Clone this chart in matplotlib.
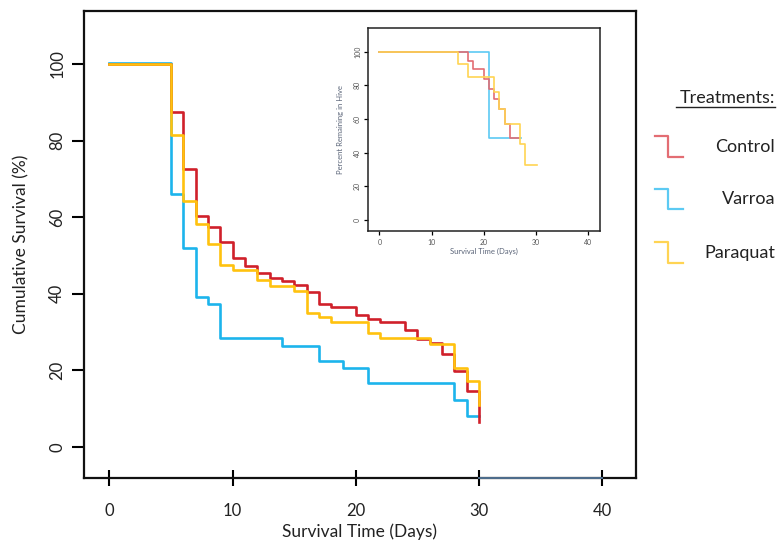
import matplotlib
matplotlib.use("Agg")
import matplotlib.pyplot as plt
from matplotlib.lines import Line2D

plt.rcParams['font.family'] = ['Lato', 'DejaVu Sans']

# ---------------- data (main chart) ----------------
control_t = [0, 5, 6, 7, 8, 9, 10, 11, 12, 13, 14, 15, 16, 17, 18, 20, 21, 22, 24, 25, 26, 27, 28, 29, 30]
control_v = [100, 87.5, 72.5, 60.4, 57.3, 53.5, 49.4, 47.3, 45.4, 44.2, 43.4, 42.3, 40.4, 37.3, 36.5,
             34.5, 33.3, 32.7, 30.5, 28.1, 27.2, 24.2, 19.9, 14.5, 6.5]
varroa_t = [0, 5, 6, 7, 8, 9, 14, 17, 19, 21, 28, 29, 30]
varroa_v = [100.3, 66.0, 51.8, 39.2, 37.3, 28.3, 26.3, 22.4, 20.6, 16.6, 12.2, 8.0, 8.0]
paraquat_t = [0, 5, 6, 7, 8, 9, 10, 12, 13, 15, 16, 17, 18, 21, 22, 26, 28, 29, 30]
paraquat_v = [100, 81.4, 64.2, 58.3, 53.0, 47.5, 46.2, 43.6, 42.0, 40.8, 35.0, 33.8, 32.6,
              29.6, 28.3, 26.8, 20.5, 17.2, 10.9]

# ---------------- data (inset) ----------------
in_control_t = [0, 17, 18, 20, 21, 22, 23, 24, 25, 26.7]
in_control_v = [100, 94.6, 89.5, 84, 78, 72, 65.7, 57, 49, 49]
in_varroa_t = [0, 21, 27.2]
in_varroa_v = [99.6, 49, 49]
in_paraquat_t = [0, 15, 17, 22, 23, 24, 27, 28, 30.2]
in_paraquat_v = [100, 92.6, 85, 76, 66, 57, 45, 32.7, 32.7]

x_ticks = [0, 10, 20, 30, 40]
y_ticks = [0, 20, 40, 60, 80, 100]
treatments = ["Control", "Varroa", "Paraquat"]

RED, BLUE, YEL = '#d0202a', '#1cb4ec', '#ffc20e'
RED_L, BLUE_L, YEL_L = '#e36d73', '#5ccaf3', '#ffd453'

fig = plt.figure(figsize=(7.81, 5.47), dpi=100)
ax = fig.add_axes([84/781, 1-478/547, 552/781, 467/547])

ax.step(control_t, control_v, where='post', color=RED, lw=1.9, zorder=3)
ax.step(varroa_t, varroa_v, where='post', color=BLUE, lw=1.9, zorder=2)
ax.step(paraquat_t, paraquat_v, where='post', color=YEL, lw=1.9, zorder=3)

ax.set_xlim(-2.06, 42.74)
ax.set_ylim(-8.18, 113.85)
ax.set_xticks(x_ticks)
ax.set_yticks(y_ticks)
for s in ax.spines.values():
    s.set_linewidth(1.6)
    s.set_color('#111111')
ax.tick_params(axis='x', direction='inout', length=12, width=1.5, pad=12,
               labelsize=12, labelcolor='#222222')
ax.tick_params(axis='y', direction='out', length=8.5, width=1.5, pad=5,
               labelsize=12, labelcolor='#222222', labelrotation=90)
for lab in ax.get_yticklabels():
    lab.set_va('center')
# bluish segment on the bottom spine
ax.plot([30, 40], [-8.18, -8.18], color='#4f6f8f', lw=1.4, zorder=5, clip_on=False)

ax.set_xlabel("Survival Time (Days)", fontsize=12.5, color='#222222')
ax.xaxis.set_label_coords(0.5, (478-532)/467)
ax.xaxis.label.set_va('center')
ax.set_ylabel("Cumulative Survival (%)", fontsize=12.5, color='#222222')
ax.yaxis.set_label_coords((21-84)/552, 0.5)
ax.yaxis.label.set_va('center')

# ---------------- inset ----------------
ins = fig.add_axes([368/781, 1-231/547, 232/781, 203/547])
ins.step(in_control_t, in_control_v, where='post', color=RED_L, lw=1.2, zorder=3)
ins.step(in_varroa_t, in_varroa_v, where='post', color=BLUE_L, lw=1.2, zorder=2)
ins.step(in_paraquat_t, in_paraquat_v, where='post', color=YEL_L, lw=1.2, zorder=4)
ins.set_xlim(-2.2, 42.3)
ins.set_ylim(-6.5, 114)
ins.set_xticks(x_ticks)
ins.set_yticks(y_ticks)
for s in ins.spines.values():
    s.set_linewidth(1.1)
    s.set_color('#222222')
ins.tick_params(axis='x', direction='out', length=3, width=0.9, pad=3,
                labelsize=5, labelcolor='#555555')
ins.tick_params(axis='y', direction='out', length=3, width=0.9, pad=2,
                labelsize=5, labelcolor='#555555', labelrotation=90)
for lab in ins.get_yticklabels():
    lab.set_va('center')
ins.set_xlabel("Survival Time (Days)", fontsize=5.5, color='#5a6478', labelpad=1)
ins.set_ylabel("Percent Remaining in Hive", fontsize=5.5, color='#5a6478', labelpad=7)

# ---------------- legend ----------------
fig.text(775/781, 1-98/547, "Treatments:", ha='right', va='center', fontsize=13,
         color='#222222')
fig.add_artist(Line2D([676/781, 775/781], [1-107/547, 1-107/547], color='#222222', lw=1.0))
leg_colors = [RED_L, BLUE_L, YEL_L]
leg_y = [146.7, 199.5, 253]
for name, c, yc in zip(treatments, leg_colors, leg_y):
    ytop, ybot = yc - 11, yc + 10
    xs = [655/781, 668/781, 668/781, 683/781]
    ys = [1-ytop/547, 1-ytop/547, 1-ybot/547, 1-ybot/547]
    fig.add_artist(Line2D(xs, ys, color=c, lw=1.6))
    fig.text(775/781, 1-yc/547, name, ha='right', va='center', fontsize=13, color='#222222')

fig.savefig("out.png", dpi=100)
